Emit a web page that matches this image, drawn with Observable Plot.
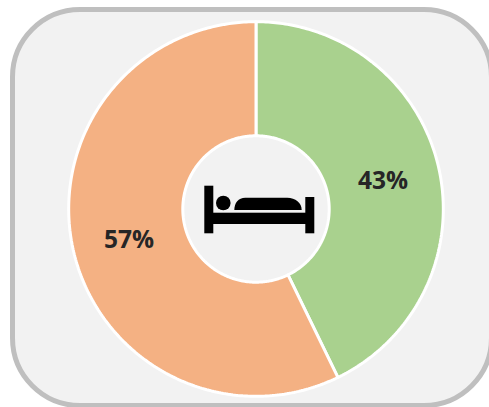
<!DOCTYPE html>
<html>
<head>
<meta charset="utf-8">
<script src="https://cdn.jsdelivr.net/npm/d3@7"></script>
<script src="https://cdn.jsdelivr.net/npm/@observablehq/plot@0.6"></script>
<style>
html,body{margin:0;padding:0;width:489px;height:407px;overflow:hidden;background:#fff}
#panel{position:absolute;left:10px;top:7px;width:484px;height:401px;box-sizing:border-box;background:#f2f2f2;border:5px solid #bfbfbf;border-radius:70px}
#chart{position:absolute;left:0;top:0}
#chart svg{display:block}
#icon{position:absolute;left:0;top:0}
</style>
</head>
<body>
<div id="panel"></div>
<div id="chart"></div>
<svg id="icon" width="489" height="407" aria-hidden="true">
  <g fill="#000">
    <rect x="204.3" y="185.7" width="9" height="47.6"/>
    <rect x="305.3" y="197" width="9" height="36.3"/>
    <rect x="213" y="212.7" width="93" height="11.3"/>
    <circle cx="223.3" cy="203" r="7.3"/>
    <path d="M234.3 210c0-7 4-12.3 11-12.3h42c8 0 14.400 5 14.400 12.300z"/>
  </g>
</svg>
<script>
const categories = ["Share A", "Share B"];
const shares = [42.8, 57.2];
const labels = ["43%", "57%"];
const colors = ["#a9d18e", "#f4b183"];

const W = 489, H = 407, cx = 255.5, cy = 208.5, R = 187.3;
const innerFrac = 73.2 / R;
const midFrac = (1 + innerFrac) / 2;
const total = d3.sum(shares);

let acc = 0;
const slices = shares.map((v, i) => {
  const a0 = acc / total * 2 * Math.PI;
  acc += v;
  const a1 = acc / total * 2 * Math.PI;
  return {cat: categories[i], label: labels[i], a0, a1};
});
const pol = (r, a) => ({x: r * Math.sin(a), y: r * Math.cos(a)});
const outline = slices.flatMap(s => {
  const n = Math.ceil((s.a1 - s.a0) / (Math.PI / 240));
  const angles = d3.range(n + 1).map(k => s.a0 + (s.a1 - s.a0) * k / n);
  const pts = [
    ...angles.map(a => pol(1, a)),
    ...angles.slice().reverse().map(a => pol(innerFrac, a))
  ];
  pts.push(pts[0]);
  return pts.map(p => ({...p, cat: s.cat}));
});
const labelPts = slices.map(s => ({...pol(midFrac, (s.a0 + s.a1) / 2), label: s.label}));

const plot = Plot.plot({
  width: W, height: H, margin: 0,
  style: {background: "transparent"},
  x: {domain: [-1, 1], range: [cx - R, cx + R], axis: null},
  y: {domain: [-1, 1], range: [cy + R, cy - R], axis: null},
  color: {domain: categories, range: colors},
  marks: [
    Plot.line(outline, {x: "x", y: "y", z: "cat", fill: "cat", stroke: "#fff", strokeWidth: 3, curve: "linear", strokeLinejoin: "miter"}),
    Plot.text(labelPts, {x: "x", y: "y", text: "label", fill: "#262626", fontSize: 24.5, fontWeight: 700, fontFamily: "Open Sans", dy: 1.5})
  ]
});
document.getElementById("chart").appendChild(plot);
</script>
</body>
</html>
